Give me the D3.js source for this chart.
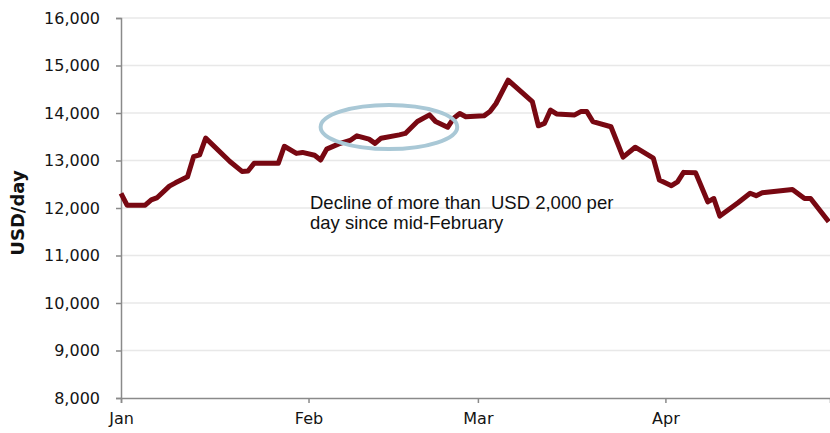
<!DOCTYPE html>
<html>
<head>
<meta charset="utf-8">
<script src="https://cdn.jsdelivr.net/npm/d3@7"></script>
<style>
  html, body { margin: 0; padding: 0; background: #fff; }
  svg { display: block; }
</style>
</head>
<body>
<svg id="chart" width="830" height="433"></svg>
<script>
// Daily rate, USD/day
const dates = [
  "2013-01-01","2013-01-02","2013-01-05","2013-01-06","2013-01-07","2013-01-09",
  "2013-01-10","2013-01-12","2013-01-13","2013-01-14","2013-01-15","2013-01-19",
  "2013-01-21","2013-01-22","2013-01-23","2013-01-27","2013-01-28","2013-01-30",
  "2013-01-31","2013-02-02","2013-02-03","2013-02-04","2013-02-06","2013-02-08",
  "2013-02-09","2013-02-11","2013-02-12","2013-02-13","2013-02-16","2013-02-17",
  "2013-02-19","2013-02-21","2013-02-22","2013-02-24","2013-02-25","2013-02-26",
  "2013-02-27","2013-03-02","2013-03-03","2013-03-04","2013-03-06","2013-03-10",
  "2013-03-11","2013-03-12","2013-03-13","2013-03-14","2013-03-17","2013-03-18",
  "2013-03-19","2013-03-20","2013-03-23","2013-03-25","2013-03-27","2013-03-30",
  "2013-03-31","2013-04-02","2013-04-03","2013-04-04","2013-04-06","2013-04-08",
  "2013-04-09","2013-04-10","2013-04-13","2013-04-15","2013-04-16","2013-04-17",
  "2013-04-22","2013-04-24","2013-04-25","2013-04-28"
];
const rates = [
  12310,12060,12060,12170,12220,12460,
  12530,12660,13080,13120,13470,12980,
  12770,12780,12940,12940,13300,13150,
  13170,13110,13010,13240,13350,13430,
  13520,13450,13360,13470,13540,13570,
  13820,13960,13820,13700,13890,13990,
  13920,13940,14030,14200,14690,14240,
  13730,13780,14060,13980,13960,14030,
  14030,13820,13710,13070,13280,13050,
  12590,12470,12550,12750,12740,12130,
  12200,11830,12110,12310,12260,12320,
  12390,12200,12200,11710
];
const yTicks = [8000, 9000, 10000, 11000, 12000, 13000, 14000, 15000, 16000];
const monthTicks = ["2013-01-01", "2013-02-01", "2013-03-01", "2013-04-01"];
const yTitle = "USD/day";
const noteLines = ["Decline of more than  USD 2,000 per", "day since mid-February"];
// Stretch highlighted by the ellipse
const highlightRange = ["2013-02-03T00:00Z", "2013-02-25T14:00Z"];
const highlightLevel = [13240, 14170];

const parse = d3.utcParse("%Y-%m-%d");
const series = dates.map((d, i) => ({ date: parse(d), value: rates[i] }));

const W = 830, H = 433;
const margin = { top: 18, right: 0, bottom: 35, left: 121 };

const svg = d3.select("#chart");

const x = d3.scaleUtc()
  .domain([parse("2013-01-01"), new Date(Date.UTC(2013, 3, 28, 5))])
  .range([margin.left, W - margin.right]);

const y = d3.scaleLinear()
  .domain([8000, 16000])
  .range([H - margin.bottom, margin.top]);

const axisColor = "#8a8a8a";
const textColor = "#141414";

// Horizontal gridlines
svg.append("g")
  .selectAll("line")
  .data(yTicks.filter(t => t !== 8000))
  .join("line")
  .attr("x1", margin.left)
  .attr("x2", W - margin.right)
  .attr("y1", d => y(d))
  .attr("y2", d => y(d))
  .attr("stroke", "#e8e8e8")
  .attr("stroke-width", 1.5);

// Y axis
const yAxis = svg.append("g")
  .attr("transform", `translate(${margin.left},0)`)
  .call(d3.axisLeft(y).tickValues(yTicks).tickFormat(d3.format(",")).tickSize(5).tickPadding(16));
yAxis.select(".domain").attr("stroke", axisColor).attr("stroke-width", 1.5);
yAxis.selectAll(".tick line").attr("stroke", axisColor).attr("stroke-width", 1.5);
yAxis.selectAll(".tick text")
  .attr("fill", textColor)
  .style("font-family", "'DejaVu Sans', Verdana, sans-serif")
  .style("font-size", "16px");

// X axis
const xAxis = svg.append("g")
  .attr("transform", `translate(0,${H - margin.bottom})`)
  .call(d3.axisBottom(x).tickValues(monthTicks.map(parse)).tickFormat(d3.utcFormat("%b")).tickSize(5).tickPadding(10));
xAxis.select(".domain").attr("stroke", axisColor).attr("stroke-width", 1.5);
xAxis.selectAll(".tick line").attr("stroke", axisColor).attr("stroke-width", 1.5);
xAxis.selectAll(".tick text")
  .attr("fill", textColor)
  .style("font-family", "'DejaVu Sans', Verdana, sans-serif")
  .style("font-size", "16px");

// Y axis title
svg.append("text")
  .attr("transform", `translate(24,${(margin.top + H - margin.bottom) / 2 + 5}) rotate(-90)`)
  .attr("text-anchor", "middle")
  .attr("fill", "#111")
  .style("font-family", "'DejaVu Sans', Verdana, sans-serif")
  .style("font-weight", "bold")
  .style("font-size", "18px")
  .text(yTitle);

// Rate line
const line = d3.line()
  .x(d => x(d.date))
  .y(d => y(d.value));

svg.append("path")
  .datum(series)
  .attr("fill", "none")
  .attr("stroke", "#780812")
  .attr("stroke-width", 5)
  .attr("stroke-linejoin", "round")
  .attr("d", line);

// Highlight ellipse
const hx0 = x(d3.isoParse(highlightRange[0])), hx1 = x(d3.isoParse(highlightRange[1]));
const hy0 = y(highlightLevel[1]), hy1 = y(highlightLevel[0]);
svg.append("ellipse")
  .attr("cx", (hx0 + hx1) / 2)
  .attr("cy", (hy0 + hy1) / 2)
  .attr("rx", (hx1 - hx0) / 2)
  .attr("ry", (hy1 - hy0) / 2)
  .attr("fill", "none")
  .attr("stroke", "#a9c8d6")
  .attr("stroke-width", 4);

// Annotation
const note = svg.append("text")
  .attr("x", 310)
  .attr("y", 209)
  .attr("fill", "#111")
  .style("font-family", "'Liberation Sans', Arial, sans-serif")
  .style("font-size", "18.5px")
  .style("white-space", "pre");
note.selectAll("tspan")
  .data(noteLines)
  .join("tspan")
  .attr("x", 310)
  .attr("dy", (d, i) => i === 0 ? 0 : 20)
  .text(d => d);
</script>
</body>
</html>
